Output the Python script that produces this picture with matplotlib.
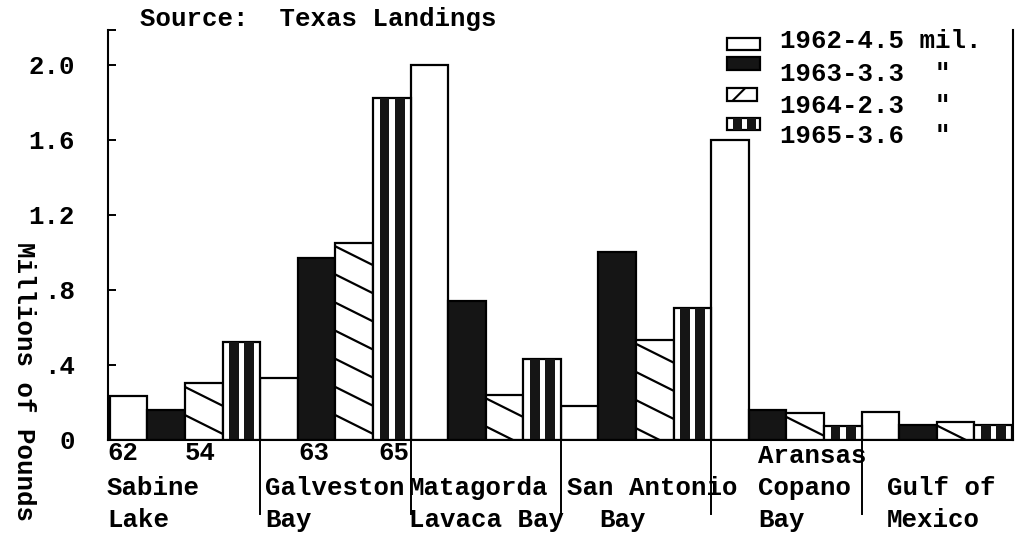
import numpy as np
import matplotlib.pyplot as plt
from matplotlib.patches import Rectangle
from matplotlib.lines import Line2D

plt.rcParams['font.family'] = ['Liberation Mono', 'DejaVu Sans Mono']
plt.rcParams['font.weight'] = 'bold'
plt.rcParams['hatch.linewidth'] = 1.5

# data, millions of pounds
years = ['1962', '1963', '1964', '1965']
totals = ['4.5 mil.', '3.3  "', '2.3  "', '3.6  "']
v1962 = [0.23, 0.33, 2.00, 0.18, 1.60, 0.145]
v1963 = [0.16, 0.97, 0.74, 1.00, 0.16, 0.075]
v1964 = [0.30, 1.05, 0.24, 0.53, 0.14, 0.095]
v1965 = [0.52, 1.82, 0.43, 0.70, 0.07, 0.075]
ytick_vals = [0, 0.4, 0.8, 1.2, 1.6, 2.0]
ytick_labels = ['0', '.4', '.8', '1.2', '1.6', '2.0']

# area labels as typed under the axis
area_labels = [
    ('Sabine', 107, 495), ('Lake', 107, 527),
    ('Galveston', 265, 495), ('Bay', 265, 527),
    ('Matagorda', 409, 495), ('Lavaca Bay', 409, 527),
    ('San Antonio', 567, 495), ('Bay', 599, 527),
    ('Aransas', 758, 463), ('Copano', 758, 495), ('Bay', 758, 527),
    ('Gulf of', 887, 495), ('Mexico', 887, 527),
]
notes = [('62', 107, 460), ('54', 185, 460), ('63', 298, 460), ('65', 378, 460)]

W, H = 1016, 533
FS = 18.5
LW = 1.6

fig = plt.figure(figsize=(W / 100, H / 100), dpi=100)
ax = fig.add_axes([108 / W, (H - 439.5) / H, (1013 - 108) / W, (439.5 - 30) / H])


def put(x, y, s, **kw):
    # place text using pixel coords of the scanned page (y from top)
    fig.text(x / W, 1 - y / H, s, fontsize=FS, va='baseline', **kw)


def fig_rect(x0, y0, x1, y1, **kw):
    r = Rectangle((x0 / W, 1 - y1 / H), (x1 - x0) / W, (y1 - y0) / H,
                  transform=fig.transFigure, **kw)
    fig.add_artist(r)
    return r


n = len(v1962)
base = np.arange(n) * 4
bar_kw = dict(width=1.0, align='edge', edgecolor='black', linewidth=LW)

ax.bar(base + 0, v1962, color='white', **bar_kw)
ax.bar(base + 1, v1963, color='#151515', **bar_kw)
b64 = ax.bar(base + 2, v1964, color='white', **bar_kw)
ax.bar(base + 3, v1965, color='white', **bar_kw)
# vertical black stripes inside the 1965 bars
for off in (0.18, 0.58):
    ax.bar(base + 3 + off, v1965, width=0.26, align='edge', color='#151515', linewidth=0)

# sparse diagonal hatch for 1964
slope = -0.1
step = 0.15
for rect, top in zip(b64.patches, v1964):
    x0 = rect.get_x()
    y = top - 0.02
    while y > -0.2:
        ln = Line2D([x0, x0 + 1], [y, y + slope], color='black', linewidth=LW)
        ax.add_line(ln)
        ln.set_clip_path(rect)
        y -= step

ax.set_xlim(-0.05, 24.03)
ytop = (439.5 - 30) / 187.5
ax.set_ylim(0, ytop)
ax.set_xticks([])
ax.set_yticks(ytick_vals + [ytop])
ax.set_yticklabels(ytick_labels + [''])
ax.tick_params(axis='y', direction='in', length=6, width=1.4, pad=24, labelsize=FS)
ax.spines['top'].set_visible(False)
for side in ('left', 'bottom', 'right'):
    ax.spines[side].set_linewidth(1.5)

# group dividers below the axis
for g in range(1, n):
    ax.plot([g * 4, g * 4], [0, -0.183], color='black', linewidth=1.4,
            transform=ax.get_xaxis_transform(), clip_on=False)

for s, x, y in area_labels:
    put(x, y, s)
for s, x, y in notes:
    put(x, y, s)

put(140, 26, 'Source:  Texas Landings')
fig.text(24 / W, 1 - 382 / H, 'Millions of Pounds', rotation=270,
         fontsize=FS, ha='center', va='center')

# legend drawn like the typed key
rows = [(38, 50, 48), (57, 70, 81), (88, 101, 113), (118, 130, 143)]
for i, (yr, tot) in enumerate(zip(years, totals)):
    y0, y1, yb = rows[i]
    if i == 0:
        fig_rect(727, y0, 760, y1, facecolor='white', edgecolor='black', linewidth=LW)
    elif i == 1:
        fig_rect(727, y0, 760, y1, facecolor='#151515', edgecolor='black', linewidth=LW)
    elif i == 2:
        fig_rect(727, y0, 757, y1, facecolor='white', edgecolor='black', linewidth=LW, hatch='/')
    else:
        fig_rect(727, y0, 760, y1, facecolor='white', edgecolor='black', linewidth=LW)
        fig_rect(733, y0, 742, y1, facecolor='#151515', linewidth=0)
        fig_rect(747, y0, 756, y1, facecolor='#151515', linewidth=0)
    put(780, yb, yr + '-' + tot)

fig.savefig('out.png', dpi=100, facecolor='white')
